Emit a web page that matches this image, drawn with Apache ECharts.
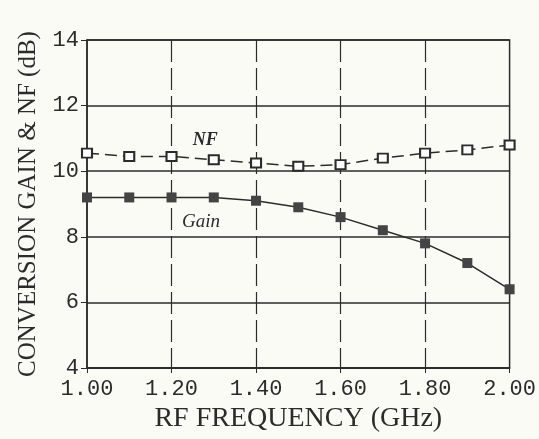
<!DOCTYPE html>
<html>
<head>
<meta charset="utf-8">
<script src="https://cdn.jsdelivr.net/npm/echarts@6/dist/echarts.min.js"></script>
<style>
  html, body { margin: 0; padding: 0; background: #fbfbf6; }
  #main { width: 539px; height: 439px; }
</style>
</head>
<body>
<div id="main"></div>
<script>
// RF frequency points (GHz)
var freq = [1.0, 1.1, 1.2, 1.3, 1.4, 1.5, 1.6, 1.7, 1.8, 1.9, 2.0];
// noise figure (dB)
var nf = [10.55, 10.45, 10.45, 10.35, 10.25, 10.15, 10.2, 10.4, 10.55, 10.65, 10.8];
// conversion gain (dB)
var gain = [9.2, 9.2, 9.2, 9.2, 9.1, 8.9, 8.6, 8.2, 7.8, 7.2, 6.4];
var yTicks = [4, 6, 8, 10, 12, 14];
var xTicks = [1.0, 1.2, 1.4, 1.6, 1.8, 2.0];

var ink = "#2b2b2b";
var tickFont = "Liberation Mono";
var titleFont = "Liberation Serif";

var myChart = echarts.init(document.getElementById("main"));

var option = {
  backgroundColor: "#fbfbf6",
  animation: false,
  grid: {
    left: 87,
    right: 26,
    top: 40,
    bottom: 71,
    show: true,
    borderColor: ink,
    borderWidth: 1.5
  },
  xAxis: {
    type: "value",
    min: xTicks[0],
    max: xTicks[xTicks.length - 1],
    interval: 0.2,
    name: "RF FREQUENCY (GHz)",
    nameLocation: "middle",
    nameGap: 36,
    nameTextStyle: { fontFamily: titleFont, fontSize: 28, color: ink },
    axisLine: { show: true, lineStyle: { color: ink, width: 1.5 } },
    axisTick: { show: true, length: 5, lineStyle: { color: ink } },
    axisLabel: {
      margin: 10,
      fontFamily: tickFont,
      fontSize: 22,
      color: ink,
      formatter: function (v) { return v.toFixed(2); }
    },
    splitLine: {
      show: true,
      showMinLine: false,
      showMaxLine: false,
      lineStyle: { color: ink, width: 1.2, type: [22, 6] }
    }
  },
  yAxis: {
    type: "value",
    min: yTicks[0],
    max: yTicks[yTicks.length - 1],
    interval: 2,
    name: "CONVERSION GAIN & NF (dB)",
    nameLocation: "middle",
    nameGap: 46,
    nameTextStyle: { fontFamily: titleFont, fontSize: 25, color: ink },
    axisLine: { show: true, lineStyle: { color: ink, width: 1.5 } },
    axisTick: { show: true, length: 6, lineStyle: { color: ink } },
    axisLabel: { margin: 8, fontFamily: tickFont, fontSize: 22, color: ink },
    splitLine: { show: true, lineStyle: { color: ink, width: 1.5 } }
  },
  series: [
    {
      name: "NF",
      type: "line",
      data: freq.map(function (f, i) { return [f, nf[i]]; }),
      symbol: "emptyRect",
      symbolSize: [10, 9],
      itemStyle: { color: ink, borderWidth: 1.3 },
      lineStyle: { color: ink, width: 1.5, type: [12, 6] },
      markPoint: {
        symbol: "circle",
        symbolSize: 0,
        data: [{ coord: [1.28, 10.95] }],
        label: {
          show: true,
          formatter: "NF",
          fontFamily: titleFont,
          fontStyle: "italic",
          fontWeight: "bold",
          fontSize: 18,
          color: ink
        }
      }
    },
    {
      name: "Gain",
      type: "line",
      data: freq.map(function (f, i) { return [f, gain[i]]; }),
      symbol: "rect",
      symbolSize: 10,
      itemStyle: { color: "#444" },
      lineStyle: { color: ink, width: 1.5 },
      markPoint: {
        symbol: "circle",
        symbolSize: 0,
        data: [{ coord: [1.27, 8.45] }],
        label: {
          show: true,
          formatter: "Gain",
          fontFamily: titleFont,
          fontStyle: "italic",
          fontSize: 19,
          color: ink
        }
      }
    }
  ]
};

myChart.setOption(option);
</script>
</body>
</html>
